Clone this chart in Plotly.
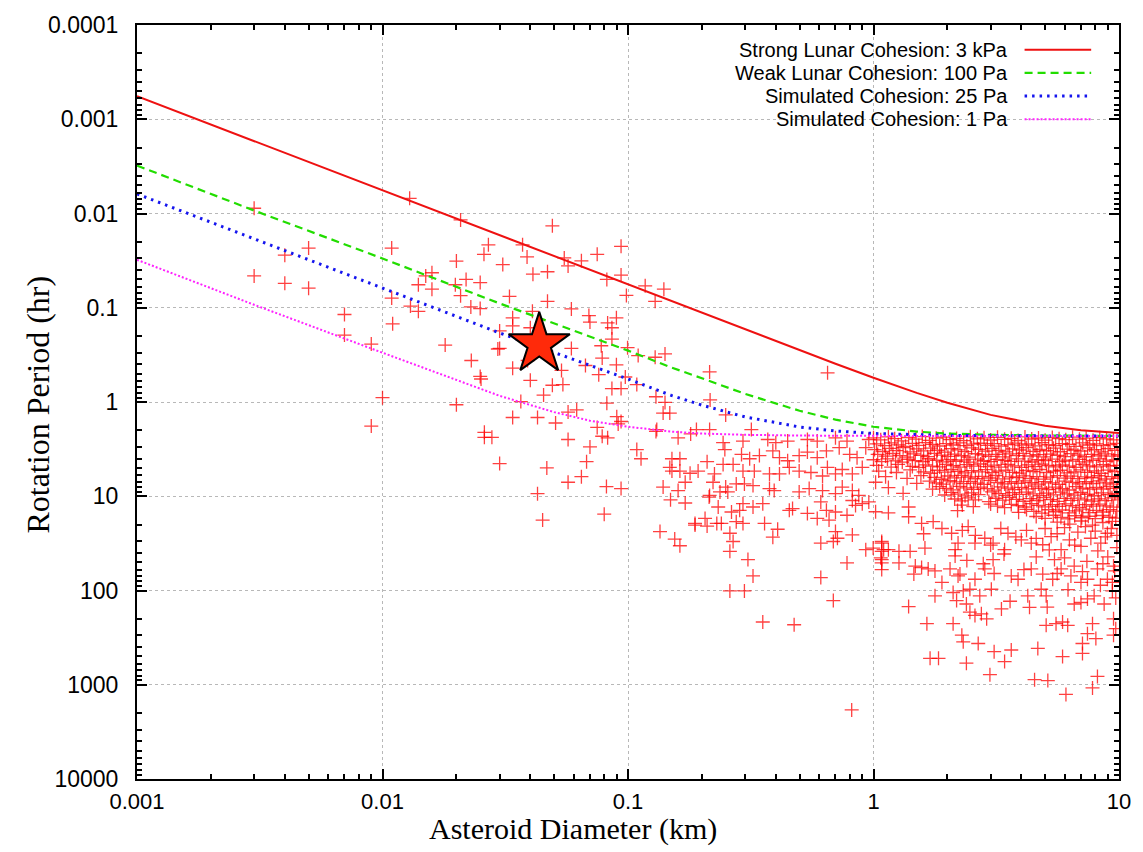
import plotly.graph_objects as go

# ---------------- data ----------------
# small / fast rotators (diameter km, period hr)
small_diam = [
    0.0030, 0.0050, 0.0040, 0.0030, 0.0040, 0.0050, 0.0070, 0.0070, 0.0090, 0.0100,
    0.0090, 0.0109, 0.0109, 0.0110, 0.0129, 0.0208, 0.0270, 0.0259, 0.0200, 0.0159,
    0.0150, 0.0140, 0.0159, 0.0198, 0.0219, 0.0250, 0.0208, 0.0130, 0.0140, 0.0229,
    0.0250, 0.0180, 0.0230, 0.0250, 0.0252, 0.0200, 0.0260, 0.0295, 0.0492, 0.0372,
    0.0388, 0.0550, 0.0570, 0.0646, 0.0749, 0.0937, 0.0937, 0.0820, 0.0309, 0.0410,
    0.0470, 0.0329, 0.0470, 0.0408, 0.0588, 0.0693, 0.0897, 0.0985, 0.0339, 0.0339,
    0.0400, 0.0300, 0.0700, 0.0826, 0.0860, 0.0860, 0.0778, 0.0300, 0.0588, 0.0996,
    0.110, 0.129, 0.1415, 0.0390, 0.0671, 0.0785, 0.0897, 0.0536, 0.0760, 0.0339,
    0.0400, 0.0975, 0.1086, 0.0492, 0.0543, 0.0453, 0.0860, 0.0937, 0.130, 0.1415,
    0.0820, 0.0366, 0.0339, 0.0428, 0.0618, 0.0507, 0.0900, 0.0912, 0.139, 0.131,
    0.1175, 0.140, 0.129, 0.215, 0.650, 0.216, 0.250, 0.0570, 0.0937, 0.0749,
    0.0260, 0.0279, 0.0570, 0.0785, 0.0826, 0.0700, 0.0300, 0.0467, 0.0678, 0.0570,
    0.0646, 0.0817, 0.0937, 0.0428, 0.0449, 0.0800, 0.1086, 0.113, 0.130, 0.148,
    0.160, 0.180, 0.190, 0.215, 0.151, 0.1627, 0.151, 0.1627, 0.179, 0.193,
    0.171, 0.139, 0.160, 0.149, 0.171, 0.210, 0.214, 0.206, 0.1875, 0.210, 0.135, 0.155, 0.1627,
]
small_period = [
    0.0088, 0.0233, 0.0277, 0.046, 0.055, 0.062, 0.118, 0.195, 0.243, 0.90,
    1.8, 0.0233, 0.079, 0.148, 0.0069, 0.0117, 0.0215, 0.0271, 0.032, 0.0425,
    0.046, 0.057, 0.0635, 0.057, 0.050, 0.054, 0.0745, 0.096, 0.109, 0.098,
    0.102, 0.249, 0.363, 0.535, 0.57, 1.07, 2.1, 0.274, 0.0135, 0.0215,
    0.0289, 0.0296, 0.036, 0.0318, 0.0271, 0.0223, 0.045, 0.050, 0.0348, 0.044,
    0.0415, 0.0759, 0.0855, 0.109, 0.103, 0.121, 0.128, 0.074, 0.128, 0.156,
    0.163, 0.176, 0.142, 0.145, 0.163, 0.215, 0.253, 0.270, 0.270, 0.265,
    0.322, 0.335, 0.309, 0.363, 0.41, 0.342, 0.403, 0.462, 0.513, 0.438,
    0.589, 0.543, 0.653, 0.664, 0.653, 0.845, 0.72, 0.72, 0.88, 1.01,
    1.03, 0.99, 1.46, 1.46, 1.21, 1.67, 1.43, 1.71, 1.31, 1.96,
    0.0586, 0.0635, 0.0855, 0.48, 0.49, 0.95, 1.37, 1.28, 1.61, 1.86,
    2.37, 2.37, 2.5, 2.31, 2.4, 3.0, 4.5, 5.0, 4.3, 7.1,
    6.2, 7.9, 8.3, 9.4, 17.9, 15.5, 3.2, 4.0, 2.05, 1.31,
    2.4, 2.18, 1.96, 1.96, 4.0, 4.0, 5.4, 5.4, 5.7, 5.4,
    7.1, 8.0, 8.7, 10.9, 11.8, 4.3, 10.2, 17.2, 20.2, 20.7, 23.7, 28.5, 33.5,
]

# intermediate sizes (0.15 - 1.2 km)
mid_diam = [
    0.318, 0.244, 0.294, 0.371, 0.40, 0.447, 0.538, 0.59, 0.70, 0.78,
    0.957, 0.248, 0.244, 0.268, 0.29, 0.313, 0.343, 0.389, 0.414, 0.447,
    0.498, 0.538, 0.59, 0.643, 0.725, 0.80, 0.857, 0.93, 0.148, 0.225,
    0.222, 0.294, 0.327, 0.276, 0.298, 0.323, 0.377, 0.414, 0.454, 0.498,
    0.556, 0.62, 0.649, 0.70, 0.746, 0.82, 0.90, 0.215, 0.237, 0.255,
    0.25, 0.377, 0.394, 0.498, 0.547, 0.62, 0.70, 0.746, 0.82, 0.82,
    0.871, 0.957, 0.233, 0.264, 0.285, 0.294, 0.323, 0.354, 0.1875, 0.23,
    0.24, 0.276, 0.294, 0.36, 0.407, 0.454, 0.468, 0.538, 0.59, 0.61,
    0.643, 0.659, 0.70, 0.78, 0.845, 0.90, 0.26, 0.268, 0.26, 0.389,
    0.61, 0.686, 0.70, 0.713, 0.82, 0.93, 0.997, 1.08, 1.08, 1.08,
    1.08, 1.15, 0.78, 0.308, 0.323, 0.26, 0.298, 0.354, 0.475, 0.61,
    0.686, 0.815,
]
mid_period = [
    1.96, 2.7, 2.6, 2.5, 2.7, 2.6, 2.5, 2.6, 2.4, 2.6,
    2.5, 3.2, 4.6, 4.6, 3.6, 4.0, 3.7, 3.3, 3.9, 4.2,
    3.7, 3.4, 3.9, 3.3, 3.05, 3.6, 3.9, 3.05, 4.95, 5.8,
    7.1, 5.4, 5.4, 7.4, 7.4, 7.7, 5.8, 5.8, 4.95, 5.4,
    5.6, 6.1, 4.95, 5.8, 5.2, 5.8, 4.95, 9.8, 9.0, 9.0,
    8.0, 8.3, 8.7, 9.0, 8.3, 8.7, 9.4, 8.0, 8.7, 11.1,
    9.8, 11.5, 13.0, 14.7, 14.1, 12.0, 13.0, 12.0, 19.4, 19.4,
    19.4, 18.6, 19.4, 19.4, 22.4, 14.1, 13.5, 15.2, 17.2, 11.5,
    14.1, 17.9, 14.7, 15.9, 12.5, 12.0, 24.7, 30.2, 38.4, 27.2,
    31.4, 30.2, 23.7, 27.9, 25.7, 36.9, 35.5, 30.2, 38.4, 47,
    60, 36.9, 51, 47, 70, 101, 101, 216, 231, 73,
    128, 1850,
]

# slow rotators among the large bodies (1 - 10 km)
slow_diam = [
    1.02, 1.15, 1.39, 1.39, 1.57, 1.75, 1.08, 1.10, 1.07, 1.08,
    1.27, 1.27, 1.41, 1.62, 1.46, 1.57, 1.67, 1.39, 1.78, 1.65,
    1.70, 1.84, 2.11, 2.05, 2.15, 2.21, 2.32, 2.18, 2.39, 2.47,
    2.59, 2.75, 2.89, 2.29, 2.32, 2.67, 2.39, 2.98, 3.10, 3.42,
    3.64, 3.32, 3.02, 2.59, 2.84, 3.07, 3.42, 3.64, 3.88, 4.25,
    4.32, 4.67, 5.05, 5.54, 5.89, 6.18, 6.57, 7.0, 7.44, 7.92,
    8.7, 9.4, 9.5, 9.7, 9.5, 7.8, 7.44, 7.1, 8.05, 7.1,
    5.89, 4.53, 5.13, 6.08, 7.8, 8.17, 5.05, 4.82, 4.39, 4.89,
    5.37, 5.81, 6.57, 7.44, 8.17, 8.97, 9.5, 9.4, 5.46, 6.37,
    7.0, 2.59, 2.84, 3.07, 3.53, 4.0, 4.39, 4.89, 5.29, 5.81,
    6.28, 7.0, 7.68, 8.43, 8.97, 2.08, 2.21, 2.43, 2.15, 1.48,
    1.78, 2.25, 2.47, 2.71, 2.11, 1.90,
]
slow_period = [
    14.6, 15.0, 13.0, 16.5, 19.4, 18.6, 31.4, 36.9, 45, 51,
    51, 38.4, 38.4, 35.5, 67, 57, 59, 148, 114, 225,
    524, 524, 225, 59, 43, 70, 101, 128, 139, 170,
    184, 177, 200, 298, 350, 365, 591, 782, 446, 567,
    428, 157, 97, 76, 59, 47, 36.9, 70, 76, 114,
    151, 412, 234, 225, 216, 234, 139, 134, 123, 114,
    139, 101, 200, 254, 298, 225, 287, 365, 324, 465,
    503, 883, 904, 1267, 1081, 815, 114, 97, 59, 67,
    76, 59, 55, 76, 59, 76, 55, 82, 47, 70,
    82, 31.4, 27.9, 31.4, 24.7, 29, 31.4, 32.7, 26.8, 36.9,
    29, 34, 27.9, 31.4, 24.7, 24.7, 31.4, 21, 36.9, 55,
    62, 67, 97, 114, 105, 82,
]

# additional moderately slow large bodies (20 - 150 hr band)
band_diam = [
    2.3, 2.6, 3.3, 3.8, 4.2, 4.6, 5.0, 5.6, 6.0, 6.8,
    7.3, 8.0, 8.8, 9.3, 9.8, 1.9, 1.6, 3.0, 5.2, 6.6,
    8.2, 9.0, 9.8, 4.6, 3.4, 2.4, 7.4, 6.0, 8.6, 9.6,
    5.6, 4.1, 3.1, 2.8, 7.1, 8.4, 9.7, 6.2, 5.1, 3.6,
]
band_period = [
    23, 26, 22, 27, 23, 28, 22, 25, 21.5, 24,
    21, 23.5, 27, 22, 26, 22, 25, 33, 37, 33,
    38, 44, 35, 44, 41, 48, 49, 45, 52, 62,
    66, 60, 66, 52, 63, 88, 120, 98, 150, 130,
]

# crowded block of large bodies just below the spin barrier
dense_diam = [
    1.0, 1.07, 1.15, 1.22, 1.3, 1.39, 1.49, 1.58, 1.69, 1.8, 1.92, 2.05, 2.18, 2.33, 2.48, 2.65, 2.82, 3.0, 3.2, 3.42, 3.64, 3.88, 4.14, 4.41, 4.7, 5.0, 5.35, 5.7, 6.07, 6.47, 6.9, 7.35, 7.84, 8.35, 8.9, 9.5,
    1.03, 1.11, 1.18, 1.26, 1.35, 1.44, 1.53, 1.63, 1.74, 1.86, 1.98, 2.11, 2.25, 2.4, 2.56, 2.73, 2.91, 3.1, 3.31, 3.53, 3.76, 4.01, 4.27, 4.55, 4.85, 5.17, 5.52, 5.88, 6.27, 6.68, 7.12, 7.6, 8.1, 8.63, 9.2, 9.8,
    1.01, 1.09, 1.16, 1.24, 1.32, 1.41, 1.5, 1.6, 1.71, 1.82, 1.95, 2.07, 2.21, 2.36, 2.51, 2.68, 2.86, 3.04, 3.24, 3.46, 3.69, 3.93, 4.19, 4.47, 4.76, 5.07, 5.41, 5.77, 6.15, 6.56, 6.99, 7.45, 7.94, 8.47, 9.03, 9.62,
    1.04, 1.12, 1.2, 1.28, 1.37, 1.46, 1.56, 1.66, 1.77, 1.89, 2.01, 2.14, 2.28, 2.43, 2.6, 2.77, 2.95, 3.15, 3.36, 3.58, 3.82, 4.07, 4.34, 4.63, 4.93, 5.26, 5.61, 5.98, 6.37, 6.8, 7.25, 7.72, 8.23, 8.78, 9.36, 9.9,
    1.0, 1.08, 1.14, 1.23, 1.31, 1.38, 1.48, 1.59, 1.68, 1.81, 1.91, 2.06, 2.17, 2.34, 2.47, 2.66, 2.81, 3.01, 3.19, 3.43, 3.63, 3.89, 4.13, 4.42, 4.69, 5.01, 5.34, 5.71, 6.06, 6.48, 6.89, 7.36, 7.83, 8.36, 8.89, 9.52,
    1.03, 1.18, 1.26, 1.44, 1.53, 1.63, 1.74, 1.86, 1.98, 2.11, 2.25, 2.4, 2.56, 2.73, 2.91, 3.1, 3.31, 3.53, 3.76, 4.01, 4.27, 4.55, 4.85, 5.17, 5.52, 5.88, 6.27, 6.68, 7.12, 7.6, 8.1, 8.63, 9.2, 9.8,
    1.05, 1.24, 1.41, 1.6, 1.71, 1.82, 1.95, 2.07, 2.21, 2.36, 2.51, 2.68, 2.86, 3.04, 3.24, 3.46, 3.69, 3.93, 4.19, 4.47, 4.76, 5.07, 5.41, 5.77, 6.15, 6.56, 6.99, 7.45, 7.94, 8.47, 9.03, 9.62,
    1.12, 1.37, 1.56, 1.77, 1.89, 2.01, 2.14, 2.28, 2.43, 2.6, 2.77, 2.95, 3.15, 3.36, 3.58, 3.82, 4.07, 4.34, 4.63, 4.93, 5.26, 5.61, 5.98, 6.37, 6.8, 7.25, 7.72, 8.23, 8.78, 9.36, 9.9,
    1.02, 1.5, 1.69, 1.8, 1.92, 2.05, 2.18, 2.33, 2.48, 2.65, 2.82, 3.0, 3.2, 3.42, 3.64, 3.88, 4.14, 4.41, 4.7, 5.0, 5.35, 5.7, 6.07, 6.47, 6.9, 7.35, 7.84, 8.35, 8.9, 9.5,
    1.15, 1.74, 1.86, 1.98, 2.11, 2.25, 2.4, 2.56, 2.73, 2.91, 3.1, 3.31, 3.53, 3.76, 4.01, 4.27, 4.55, 4.85, 5.17, 5.52, 5.88, 6.27, 6.68, 7.12, 7.6, 8.1, 8.63, 9.2, 9.8,
    1.32, 1.95, 2.07, 2.21, 2.36, 2.51, 2.68, 3.04, 3.24, 3.46, 3.69, 3.93, 4.19, 4.47, 4.76, 5.07, 5.41, 5.77, 6.15, 6.56, 6.99, 7.45, 7.94, 8.47, 9.03, 9.62,
    2.14, 2.28, 2.43, 2.6, 2.95, 3.15, 3.36, 3.58, 3.82, 4.07, 4.34, 4.63, 4.93, 5.26, 5.61, 5.98, 6.37, 6.8, 7.25, 7.72, 8.23, 8.78, 9.36, 9.9,
    2.3, 2.55, 3.0, 3.2, 3.42, 3.64, 3.88, 4.14, 4.41, 4.7, 5.0, 5.35, 5.7, 6.07, 6.47, 6.9, 7.35, 7.84, 8.35, 8.9, 9.5,
    2.2, 3.9, 4.2, 4.5, 4.85, 5.17, 5.52, 5.88, 6.27, 6.68, 7.12, 7.6, 8.1, 8.63, 9.2, 9.8,
    4.6, 5.0, 5.4, 5.8, 6.2, 6.6, 7.05, 7.5, 8.0, 8.55, 9.1, 9.7,
    5.6, 6.3, 7.0, 7.8, 8.6, 9.4,
]
dense_period = [
    2.40, 2.52, 2.35, 2.45, 2.58, 2.38, 2.48, 2.33, 2.55, 2.42, 2.36, 2.5, 2.44, 2.57, 2.34, 2.46, 2.4, 2.53, 2.37, 2.49, 2.43, 2.56, 2.35, 2.47, 2.41, 2.54, 2.38, 2.45, 2.51, 2.36, 2.48, 2.42, 2.55, 2.39, 2.46, 2.52,
    2.78, 2.9, 2.72, 2.85, 2.95, 2.75, 2.88, 2.7, 2.82, 2.93, 2.76, 2.86, 2.71, 2.91, 2.8, 2.74, 2.89, 2.77, 2.94, 2.83, 2.73, 2.87, 2.79, 2.92, 2.7, 2.84, 2.9, 2.76, 2.81, 2.95, 2.72, 2.86, 2.78, 2.9, 2.83, 2.75,
    3.2, 3.35, 3.1, 3.28, 3.05, 3.38, 3.15, 3.3, 3.08, 3.25, 3.4, 3.12, 3.22, 3.36, 3.06, 3.18, 3.32, 3.1, 3.27, 3.39, 3.14, 3.23, 3.05, 3.34, 3.19, 3.29, 3.09, 3.37, 3.16, 3.24, 3.31, 3.07, 3.21, 3.38, 3.13, 3.26,
    3.6, 3.75, 3.52, 3.7, 3.85, 3.55, 3.68, 3.8, 3.5, 3.66, 3.78, 3.58, 3.72, 3.84, 3.54, 3.64, 3.77, 3.6, 3.82, 3.56, 3.7, 3.5, 3.74, 3.62, 3.83, 3.57, 3.69, 3.79, 3.53, 3.67, 3.81, 3.59, 3.73, 3.55, 3.76, 3.63,
    4.1, 4.3, 4.02, 4.22, 4.35, 4.05, 4.18, 4.28, 4.0, 4.15, 4.32, 4.08, 4.25, 4.12, 4.34, 4.03, 4.2, 4.3, 4.06, 4.16, 4.27, 4.01, 4.23, 4.33, 4.1, 4.19, 4.04, 4.29, 4.14, 4.24, 4.07, 4.31, 4.17, 4.02, 4.26, 4.13,
    4.7, 4.9, 4.6, 4.82, 4.95, 4.65, 4.78, 4.88, 4.58, 4.74, 4.92, 4.62, 4.8, 4.55, 4.86, 4.68, 4.9, 4.6, 4.76, 4.94, 4.64, 4.84, 4.57, 4.72, 4.89, 4.66, 4.8, 4.93, 4.59, 4.75, 4.87, 4.63, 4.79, 4.7,
    5.4, 5.6, 5.25, 5.5, 5.7, 5.3, 5.55, 5.2, 5.45, 5.65, 5.35, 5.52, 5.22, 5.62, 5.4, 5.28, 5.58, 5.68, 5.33, 5.48, 5.2, 5.6, 5.42, 5.3, 5.66, 5.5, 5.24, 5.57, 5.38, 5.7, 5.27, 5.46,
    6.2, 6.45, 6.05, 6.3, 6.6, 6.1, 6.38, 6.0, 6.25, 6.52, 6.15, 6.4, 6.02, 6.55, 6.22, 6.35, 6.08, 6.48, 6.18, 6.58, 6.28, 6.04, 6.42, 6.12, 6.5, 6.24, 6.36, 6.06, 6.56, 6.2, 6.44,
    7.1, 7.3, 6.9, 7.2, 7.45, 6.85, 7.05, 7.35, 6.95, 7.25, 7.5, 6.8, 7.15, 7.4, 7.0, 7.28, 6.88, 7.18, 7.42, 6.98, 7.22, 7.48, 6.92, 7.12, 7.38, 7.02, 7.32, 6.86, 7.2, 7.44,
    8.1, 8.4, 7.9, 8.25, 8.55, 7.85, 8.15, 8.45, 8.0, 8.3, 8.6, 7.95, 8.2, 8.5, 8.05, 8.35, 7.8, 8.22, 8.48, 8.02, 8.32, 8.58, 7.92, 8.18, 8.42, 8.08, 8.38, 7.88, 8.26,
    9.3, 9.7, 9.1, 9.5, 9.9, 9.2, 9.6, 9.0, 9.4, 9.8, 9.15, 9.55, 9.05, 9.45, 9.85, 9.25, 9.65, 9.02, 9.42, 9.75, 9.12, 9.52, 9.88, 9.22, 9.62, 9.35,
    10.7, 11.2, 10.4, 10.9, 11.4, 10.5, 11.0, 10.3, 10.8, 11.3, 10.6, 11.1, 10.35, 10.85, 11.35, 10.55, 11.05, 10.45, 10.95, 11.25, 10.65, 11.15, 10.4, 10.9,
    12.4, 12.9, 12.1, 12.7, 13.2, 12.2, 12.6, 13.0, 12.0, 12.5, 12.95, 12.3, 12.8, 12.05, 12.55, 13.1, 12.25, 12.75, 12.15, 12.65, 13.05,
    14.2, 14.8, 13.8, 14.5, 15.1, 13.9, 14.6, 14.0, 15.0, 14.3, 13.7, 14.9, 14.1, 14.7, 13.85, 14.4,
    16.4, 17.2, 15.9, 16.8, 17.4, 16.1, 16.9, 16.3, 17.3, 16.0, 16.7, 17.1,
    18.8, 19.8, 18.3, 20.2, 19.0, 18.5,
]

# cohesion-limit curves
curve_diam = [0.001, 0.003, 0.01, 0.03, 0.1, 0.15, 0.2, 0.3, 0.5, 0.7, 1.0, 1.5, 2.0, 3.0, 5.0, 7.0, 10.0]
strong_3kpa = [0.00057, 0.00171, 0.0057, 0.0171, 0.057, 0.0855, 0.114, 0.170, 0.283, 0.393, 0.553, 0.801, 1.02, 1.37, 1.79, 1.99, 2.13]
weak_100pa = [0.0031, 0.0093, 0.030, 0.090, 0.285, 0.43, 0.56, 0.82, 1.24, 1.54, 1.83, 2.06, 2.16, 2.23, 2.27, 2.285, 2.29]
sim_25pa = [0.0062, 0.0186, 0.062, 0.185, 0.57, 0.85, 1.08, 1.44, 1.84, 2.03, 2.16, 2.23, 2.26, 2.28, 2.29, 2.295, 2.30]
sim1_diam = [0.001, 0.003, 0.01, 0.02, 0.03, 0.05, 0.07, 0.1, 0.15, 0.2, 0.3, 0.5, 0.7, 1.0, 2.0, 5.0, 10.0]
sim_1pa = [0.031, 0.093, 0.300, 0.59, 0.86, 1.28, 1.58, 1.83, 2.06, 2.16, 2.23, 2.27, 2.285, 2.29, 2.30, 2.30, 2.30]

curve_names = ["Strong Lunar Cohesion: 3 kPa", "Weak Lunar Cohesion: 100 Pa",
               "Simulated Cohesion: 25 Pa", "Simulated Cohesion: 1 Pa"]

star_diam = [0.0435]
star_period = [0.243]

x_tick_vals = [0.001, 0.01, 0.1, 1, 10]
x_tick_text = ["0.001", "0.01", "0.1", "1", "10"]
y_tick_vals = [0.0001, 0.001, 0.01, 0.1, 1, 10, 100, 1000, 10000]
y_tick_text = ["0.0001", "0.001", "0.01", "0.1", "1", "10", "100", "1000", "10000"]

for a, b in [(small_diam, small_period), (mid_diam, mid_period),
             (slow_diam, slow_period), (band_diam, band_period),
             (dense_diam, dense_period)]:
    assert len(a) == len(b), (len(a), len(b))

# ---------------- figure ----------------
W, H = 1143, 852
L, R, T, B = 137, 18, 15, 73
pw, ph = W - L - R, H - T - B

def px(xp):
    return (xp - L) / pw

def py(yp):
    return 1 - (yp - T) / ph

fig = go.Figure()

all_d = small_diam + mid_diam + slow_diam + band_diam + dense_diam
all_p = small_period + mid_period + slow_period + band_period + dense_period
fig.add_trace(go.Scatter(
    x=all_d, y=all_p, mode="markers", name="Asteroids", showlegend=False,
    marker=dict(symbol="cross-thin", size=10,
                line=dict(width=1.3, color="rgba(255,0,0,0.75)")),
    hoverinfo="x+y"))

styles = [
    dict(color="#ee1111", width=2, dash="solid"),
    dict(color="#22dd00", width=2.2, dash="8px,5px"),
    dict(color="#1515ee", width=3, dash="2.5px,5px"),
    dict(color="#ff22ff", width=2, dash="2px,2px"),
]
curve_x = [curve_diam, curve_diam, curve_diam, sim1_diam]
curve_y = [strong_3kpa, weak_100pa, sim_25pa, sim_1pa]
for name, xs, ys, st in zip(curve_names, curve_x, curve_y, styles):
    fig.add_trace(go.Scatter(x=xs, y=ys, mode="lines", name=name,
                             line=st, showlegend=False))

fig.add_trace(go.Scatter(
    x=star_diam, y=star_period, mode="markers", showlegend=False, name="Target",
    marker=dict(symbol="star", size=46, color="#ff2a0a",
                line=dict(color="black", width=2))))

# legend (gnuplot style: text then line sample)
legend_rows = [40, 63.5, 87, 110.5]
annotations = []
shapes = []
for name, st, yp in zip(curve_names, styles, legend_rows):
    annotations.append(dict(
        x=px(1015), y=py(yp), xref="paper", yref="paper", text=name,
        showarrow=False, xanchor="right", yanchor="middle",
        font=dict(family="Liberation Sans, Arial, sans-serif", size=20, color="black")))
    shapes.append(dict(
        type="line", xref="paper", yref="paper",
        x0=px(1030), x1=px(1097), y0=py(yp), y1=py(yp),
        line=dict(color=st["color"], width=st["width"], dash=st["dash"])))

annotations.append(dict(
    x=px(576), y=py(830), xref="paper", yref="paper",
    text="Asteroid Diameter (km)", showarrow=False,
    xanchor="center", yanchor="middle",
    font=dict(family="Liberation Serif, Times New Roman, serif", size=30, color="black")))
annotations.append(dict(
    x=px(37), y=py(400), xref="paper", yref="paper",
    text="Rotation Period (hr)", showarrow=False, textangle=-90,
    xanchor="center", yanchor="middle",
    font=dict(family="Liberation Serif, Times New Roman, serif", size=32, color="black")))

x_minor = [m * 10.0 ** e for e in range(-3, 1) for m in range(2, 10)]
y_minor = [m * 10.0 ** e for e in range(-4, 4) for m in range(2, 10)]

common = dict(
    type="log", tickmode="array", ticks="inside", ticklen=10, tickwidth=1.5,
    tickcolor="black", showline=True, linewidth=2, linecolor="black",
    mirror="allticks", showgrid=True, gridcolor="#b8b8b8", griddash="dot",
    gridwidth=1, zeroline=False,
)

fig.update_layout(
    width=W, height=H,
    margin=dict(l=L, r=R, t=T, b=B),
    paper_bgcolor="white", plot_bgcolor="white",
    showlegend=False,
    xaxis=dict(range=[-3, 1], tickvals=x_tick_vals, ticktext=x_tick_text,
               ticklabelstandoff=2,
               tickfont=dict(family="Liberation Sans, Arial, sans-serif", size=22, color="black"),
               minor=dict(tickmode="array", tickvals=x_minor, ticks="inside",
                          ticklen=5, tickwidth=1.5, tickcolor="black", showgrid=False),
               **common),
    yaxis=dict(range=[4, -4], tickvals=y_tick_vals, ticktext=y_tick_text,
               ticklabelstandoff=12,
               tickfont=dict(family="Liberation Sans, Arial, sans-serif", size=23, color="black"),
               minor=dict(tickmode="array", tickvals=y_minor, ticks="inside",
                          ticklen=5, tickwidth=1.5, tickcolor="black", showgrid=False),
               **common),
    annotations=annotations,
    shapes=shapes,
)

fig.write_html(
    "out.html",
    config={"displayModeBar": False},
    post_script="document.body.style.margin='0';document.body.style.overflow='hidden';",
)
